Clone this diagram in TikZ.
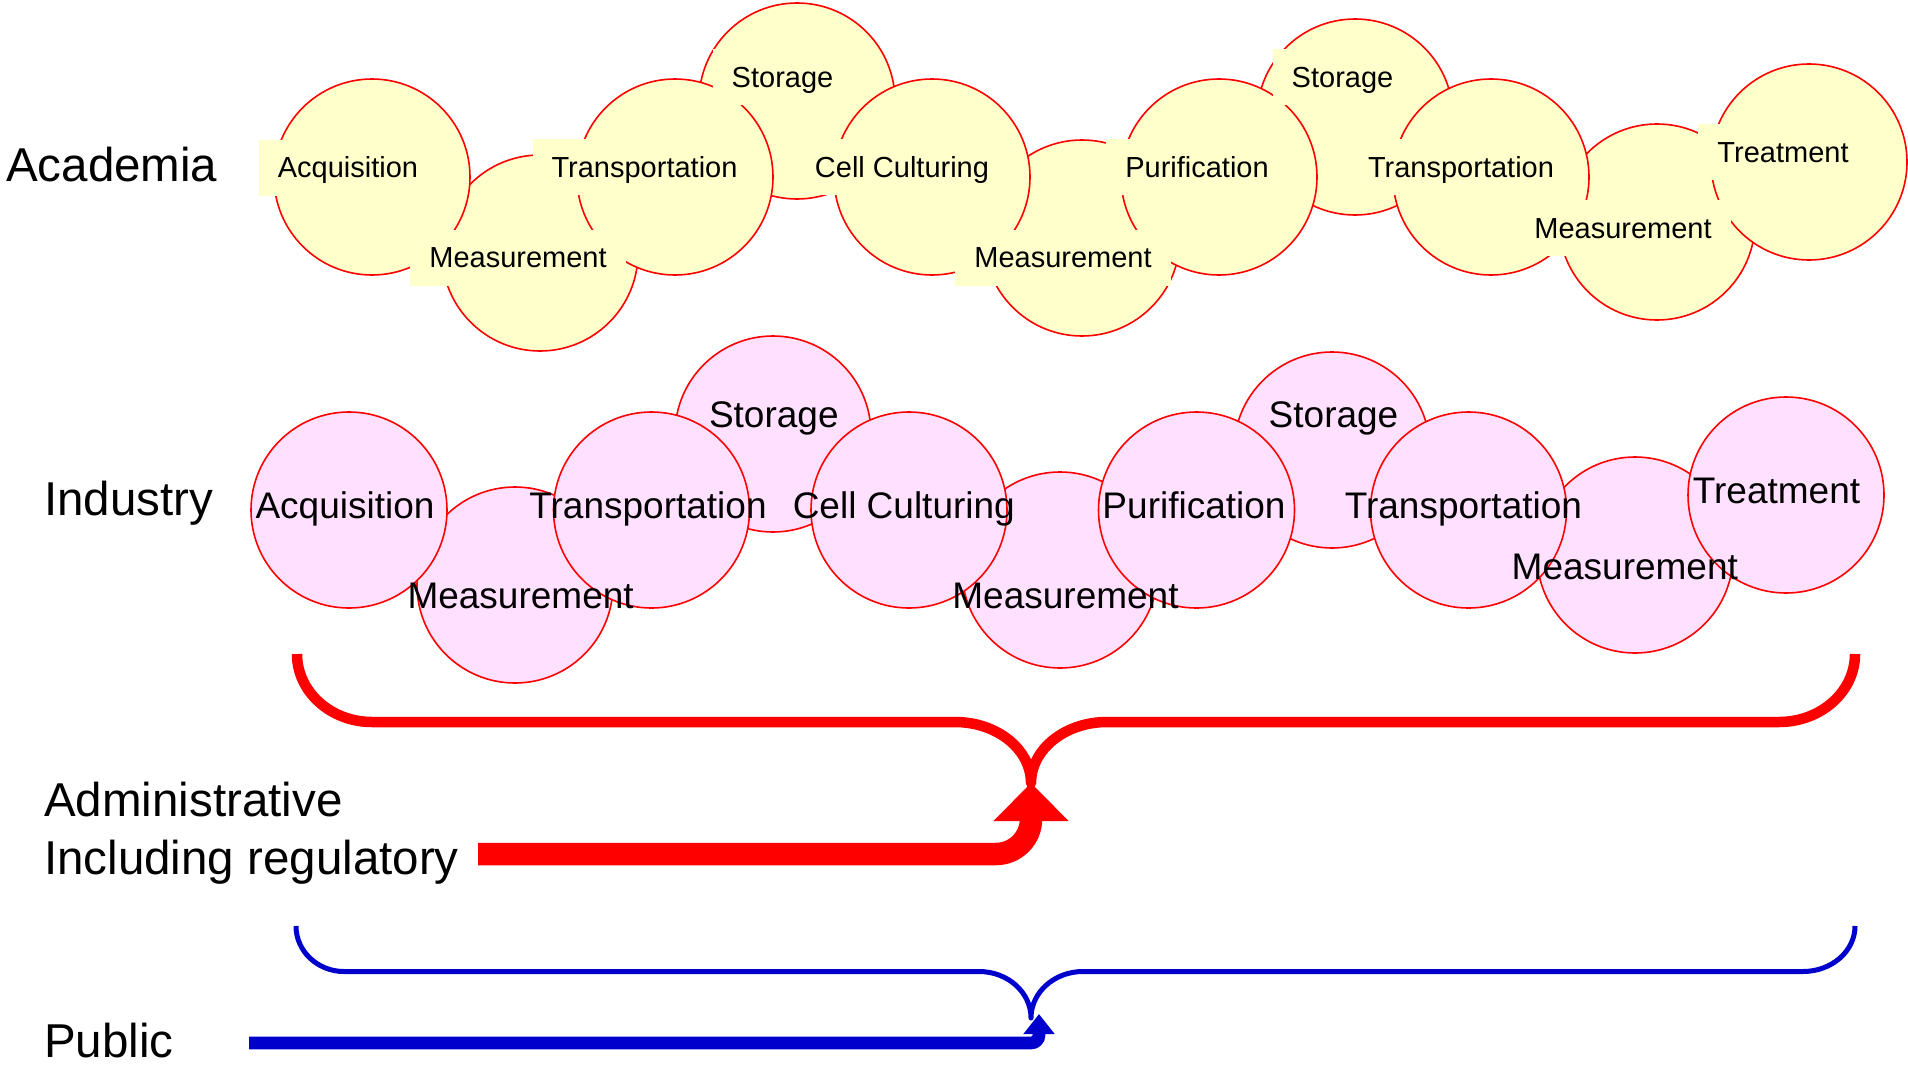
\documentclass[tikz,border=0pt]{standalone}
\usepackage{fontspec}
\setmainfont{Liberation Sans}
\usetikzlibrary{arrows.meta}
\definecolor{acfill}{HTML}{FFFFCC}
\definecolor{infill}{HTML}{FFE0FF}
\definecolor{ringred}{HTML}{FF0000}
\definecolor{braceblue}{HTML}{0000CC}
\begin{document}
\begin{tikzpicture}[x=1pt,y=-1pt,
  stage/.style={circle, draw=ringred, line width=1.6pt, minimum size=196pt, inner sep=0pt},
  acstage/.style={stage, fill=acfill},
  instage/.style={stage, fill=infill},
  aclabel/.style={fill=acfill, font=\fontsize{29}{33}\selectfont, text height=20.8pt, text depth=0pt,
                  minimum height=56pt, inner xsep=19pt, inner ysep=0pt},
  inlabel/.style={font=\fontsize{37}{42}\selectfont, text height=26.5pt, text depth=0pt, inner sep=0pt},
  sidelabel/.style={font=\fontsize{47.5}{55}\selectfont, anchor=base west, inner sep=0pt},
  redbrace/.style={draw=ringred, line width=10.5pt, line join=round},
  bluebrace/.style={draw=braceblue, line width=5pt, line join=round},
  redarrow/.style={draw=ringred, line width=22.5pt, -{Triangle[width=73pt,length=38pt]}},
  bluearrow/.style={draw=braceblue, line width=12.7pt, -{Triangle[width=30pt,length=20pt]}}]
\useasboundingbox (0,0) rectangle (1908,1065);

% ---------- Academia row: back layer ----------
\node[acstage] (a-meas1) at (540,253) {};
\node[acstage] (a-stor1) at (797,101) {};
\node[acstage] (a-meas2) at (1082,238) {};
\node[acstage] (a-stor2) at (1355,117) {};
\node[acstage] (a-meas3) at (1657,222) {};
% ---------- Academia row: front layer ----------
\node[acstage] (a-acq)   at (372,177) {};
\node[acstage] (a-trans1) at (675,177) {};
\node[acstage] (a-cell)  at (932,177) {};
\node[acstage] (a-pur)   at (1219,177) {};
\node[acstage] (a-trans2) at (1491,177) {};
\node[acstage] (a-treat) at (1809,162) {};
% ---------- Academia labels ----------
\node[aclabel] (la-acq)    at (348,167.5) {Acquisition};
\node[aclabel] (la-meas1)  at (518,257.5) {Measurement};
\node[aclabel] (la-trans1) at (644.5,167) {Transportation};
\node[aclabel] (la-stor1)  at (782.5,77) {Storage};
\node[aclabel] (la-cell)   at (902,167) {Cell Culturing};
\node[aclabel] (la-meas2)  at (1063,257.5) {Measurement};
\node[aclabel] (la-pur)    at (1197,167) {Purification};
\node[aclabel] (la-stor2)  at (1342.5,77) {Storage};
\node[aclabel] (la-trans2) at (1461,167) {Transportation};
\node[aclabel] (la-meas3)  at (1623,228) {Measurement};
\node[aclabel] (la-treat)  at (1783,152) {Treatment};

% ---------- Industry row: back layer ----------
\node[instage] (i-meas1) at (515,585) {};
\node[instage] (i-stor1) at (773,434) {};
\node[instage] (i-meas2) at (1060,570) {};
\node[instage] (i-stor2) at (1332,450) {};
\node[instage] (i-meas3) at (1635,555) {};
% ---------- Industry row: front layer ----------
\node[instage] (i-acq)    at (349,510) {};
\node[instage] (i-trans1) at (651.5,510) {};
\node[instage] (i-cell)   at (909,510) {};
\node[instage] (i-pur)    at (1196.5,510) {};
\node[instage] (i-trans2) at (1468.5,510) {};
\node[instage] (i-treat)  at (1786,495) {};
% ---------- Industry labels ----------
\node[inlabel] (li-acq)    at (345,505) {Acquisition};
\node[inlabel] (li-meas1)  at (520.6,595) {Measurement};
\node[inlabel] (li-trans1) at (648,505) {Transportation};
\node[inlabel] (li-stor1)  at (773.8,414.5) {Storage};
\node[inlabel] (li-cell)   at (903.8,505) {Cell Culturing};
\node[inlabel] (li-meas2)  at (1065.5,595) {Measurement};
\node[inlabel] (li-pur)    at (1194,505) {Purification};
\node[inlabel] (li-stor2)  at (1333.5,414.5) {Storage};
\node[inlabel] (li-trans2) at (1463.4,505) {Transportation};
\node[inlabel] (li-meas3)  at (1624.8,566) {Measurement};
\node[inlabel] (li-treat)  at (1776.5,490) {Treatment};

% ---------- Row titles ----------
\node[sidelabel] (t-acad)  at (6,181) {Academia};
\node[sidelabel] (t-ind)   at (44,515) {Industry};
\node[sidelabel] (t-adm1)  at (44,816) {Administrative};
\node[sidelabel] (t-adm2)  at (44,874) {Including regulatory};
\node[sidelabel] (t-pub)   at (44,1057) {Public};

% ---------- Braces ----------
\path[redbrace] (297,654) arc[start angle=180,end angle=90,x radius=75,y radius=68]
  -- (955,722) arc[start angle=270,end angle=360,x radius=76,y radius=61] coordinate (admtip)
  arc[start angle=180,end angle=270,x radius=76,y radius=61]
  -- (1779,722) arc[start angle=90,end angle=0,x radius=76,y radius=68];
\path[bluebrace] (296,926) arc[start angle=180,end angle=90,x radius=48,y radius=45.5]
  -- (979,971.5) arc[start angle=270,end angle=360,x radius=52,y radius=46.5] coordinate (pubtip)
  arc[start angle=180,end angle=270,x radius=52,y radius=46.5]
  -- (1803,971.5) arc[start angle=90,end angle=0,x radius=52,y radius=45.5];

% ---------- Arrows into the braces ----------
\coordinate (admstart) at (478,854);
\draw[redarrow] (admstart) -- (996,854) arc[start angle=90,end angle=0,radius=35] -- (admtip);
\coordinate (pubstart) at (249,1043);
\coordinate (pubhead) at (1039,1014);
\draw[bluearrow] (pubstart) -- (1031,1043) arc[start angle=90,end angle=0,radius=8] -- (pubhead);
\end{tikzpicture}
\end{document}
